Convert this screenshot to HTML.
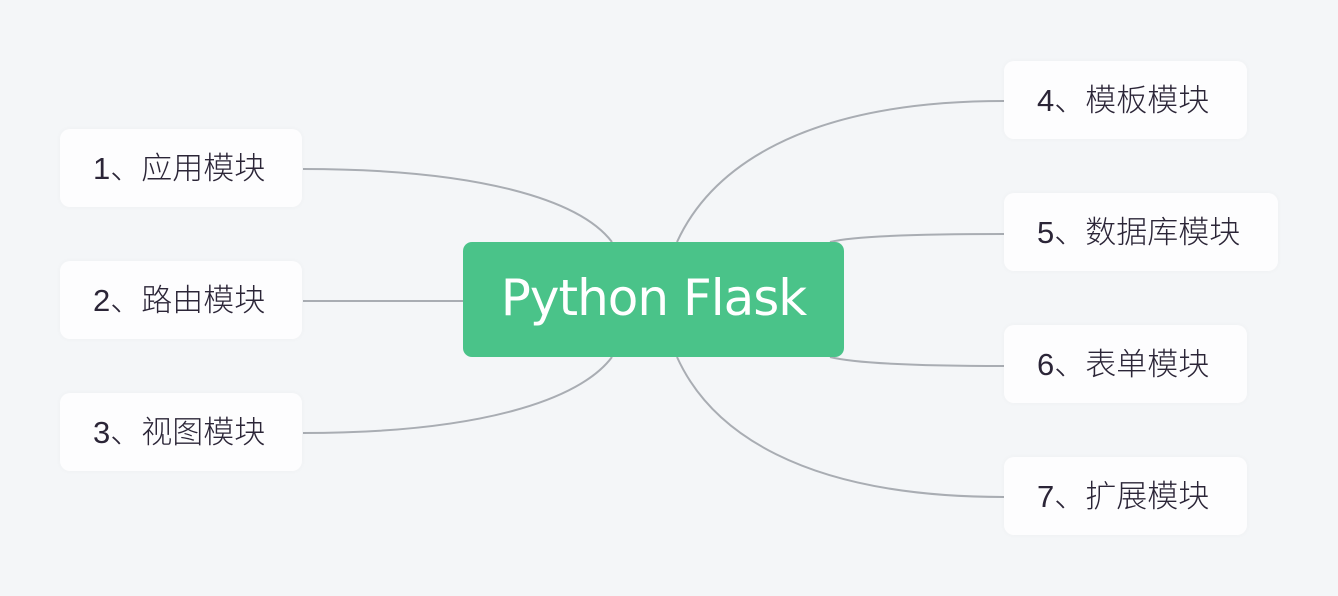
<!DOCTYPE html>
<html><head><meta charset="utf-8"><style>
body{margin:0;width:1338px;height:596px;background:#f4f6f8;position:relative;overflow:hidden;font-family:"Liberation Sans","Noto Sans CJK SC",sans-serif}
.n{position:absolute;background:#fdfdfe;border-radius:10px;box-shadow:0 0 6px rgba(0,0,0,0.03);font-size:31px;color:#2b2537;line-height:80px;padding-left:33px;box-sizing:border-box;height:78px;font-weight:300}
.c{position:absolute;left:463px;top:242px;width:381px;height:115px;background:#4ac389;border-radius:9px;color:#fff;font-size:50px;line-height:113px;text-align:center;font-family:"DejaVu Sans","Liberation Sans",sans-serif;letter-spacing:-1px}
svg{position:absolute;left:0;top:0}
</style></head><body>
<svg width="1338" height="596"><g fill="none" stroke="#a9adb3" stroke-width="2">
<path d="M303 169 C480 169 580 200 612 242"/>
<path d="M303 301 L463 301"/>
<path d="M303 433 C480 433 580 400 612 357"/>
<path d="M1004 101 C800 101 710 170 677 242"/>
<path d="M1004 234 C900 234 850 237 830 242"/>
<path d="M1004 366 C900 366 850 362 830 357"/>
<path d="M1004 497 C800 497 710 430 677 357"/>
</g></svg>
<div class="n" style="left:60px;top:129px;width:242px">1、应用模块</div>
<div class="n" style="left:60px;top:261px;width:242px">2、路由模块</div>
<div class="n" style="left:60px;top:393px;width:242px">3、视图模块</div>
<div class="n" style="left:1004px;top:61px;width:243px">4、模板模块</div>
<div class="n" style="left:1004px;top:193px;width:274px">5、数据库模块</div>
<div class="n" style="left:1004px;top:325px;width:243px">6、表单模块</div>
<div class="n" style="left:1004px;top:457px;width:243px">7、扩展模块</div>
<div class="c">Python Flask</div>
</body></html>
